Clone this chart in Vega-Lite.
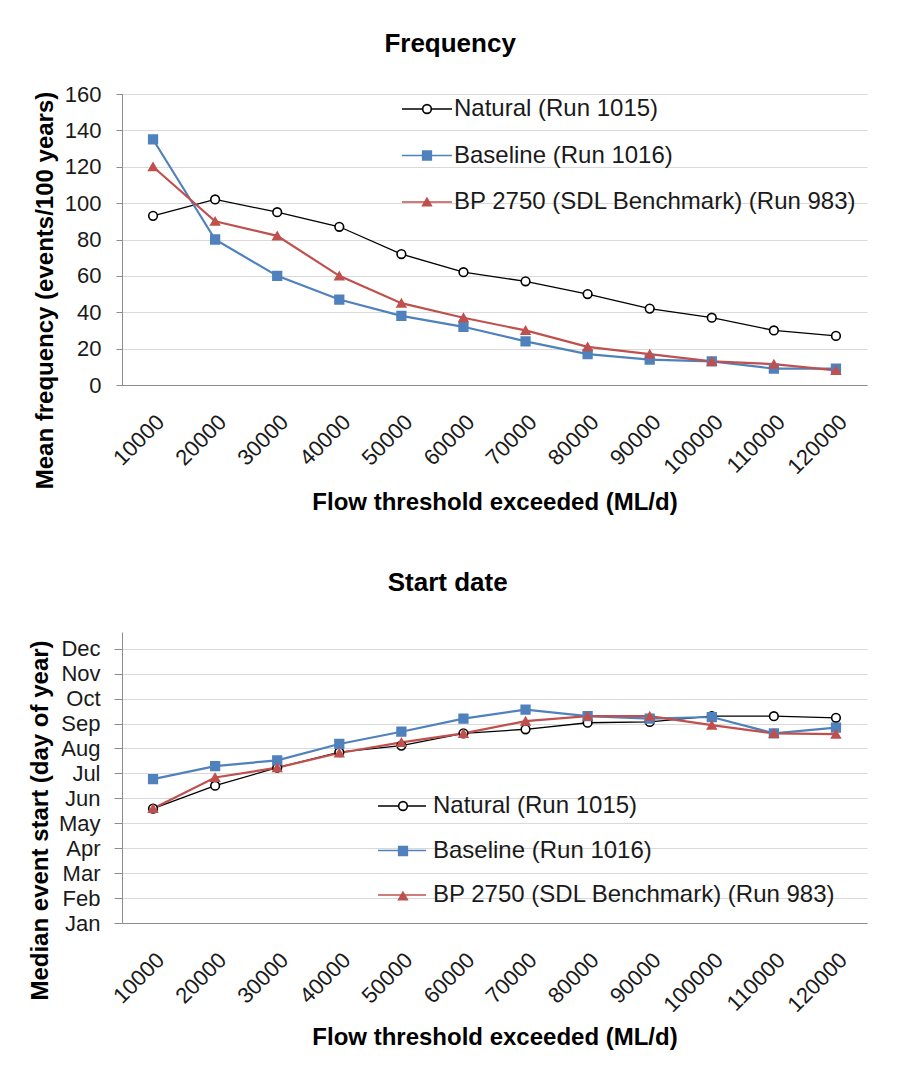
{
  "$schema": "https://vega.github.io/schema/vega-lite/v6.json",
  "background": "white",
  "padding": {"left": 28, "top": 31, "right": 10, "bottom": 10},
  "datasets": {
    "freq": [
      {"series": "Natural (Run 1015)", "flow": 10000, "value": 93},
      {"series": "Natural (Run 1015)", "flow": 20000, "value": 102},
      {"series": "Natural (Run 1015)", "flow": 30000, "value": 95},
      {"series": "Natural (Run 1015)", "flow": 40000, "value": 87},
      {"series": "Natural (Run 1015)", "flow": 50000, "value": 72},
      {"series": "Natural (Run 1015)", "flow": 60000, "value": 62},
      {"series": "Natural (Run 1015)", "flow": 70000, "value": 57},
      {"series": "Natural (Run 1015)", "flow": 80000, "value": 50},
      {"series": "Natural (Run 1015)", "flow": 90000, "value": 42},
      {"series": "Natural (Run 1015)", "flow": 100000, "value": 37},
      {"series": "Natural (Run 1015)", "flow": 110000, "value": 30},
      {"series": "Natural (Run 1015)", "flow": 120000, "value": 27},
      {"series": "Baseline (Run 1016)", "flow": 10000, "value": 135},
      {"series": "Baseline (Run 1016)", "flow": 20000, "value": 80},
      {"series": "Baseline (Run 1016)", "flow": 30000, "value": 60},
      {"series": "Baseline (Run 1016)", "flow": 40000, "value": 47},
      {"series": "Baseline (Run 1016)", "flow": 50000, "value": 38},
      {"series": "Baseline (Run 1016)", "flow": 60000, "value": 32},
      {"series": "Baseline (Run 1016)", "flow": 70000, "value": 24},
      {"series": "Baseline (Run 1016)", "flow": 80000, "value": 17},
      {"series": "Baseline (Run 1016)", "flow": 90000, "value": 14},
      {"series": "Baseline (Run 1016)", "flow": 100000, "value": 13},
      {"series": "Baseline (Run 1016)", "flow": 110000, "value": 9},
      {"series": "Baseline (Run 1016)", "flow": 120000, "value": 9},
      {"series": "BP 2750 (SDL Benchmark) (Run 983)", "flow": 10000, "value": 120},
      {"series": "BP 2750 (SDL Benchmark) (Run 983)", "flow": 20000, "value": 90},
      {"series": "BP 2750 (SDL Benchmark) (Run 983)", "flow": 30000, "value": 82},
      {"series": "BP 2750 (SDL Benchmark) (Run 983)", "flow": 40000, "value": 60},
      {"series": "BP 2750 (SDL Benchmark) (Run 983)", "flow": 50000, "value": 45},
      {"series": "BP 2750 (SDL Benchmark) (Run 983)", "flow": 60000, "value": 37},
      {"series": "BP 2750 (SDL Benchmark) (Run 983)", "flow": 70000, "value": 30},
      {"series": "BP 2750 (SDL Benchmark) (Run 983)", "flow": 80000, "value": 21},
      {"series": "BP 2750 (SDL Benchmark) (Run 983)", "flow": 90000, "value": 17},
      {"series": "BP 2750 (SDL Benchmark) (Run 983)", "flow": 100000, "value": 13},
      {"series": "BP 2750 (SDL Benchmark) (Run 983)", "flow": 110000, "value": 11.5},
      {"series": "BP 2750 (SDL Benchmark) (Run 983)", "flow": 120000, "value": 8}
    ],
    "start": [
      {"series": "Natural (Run 1015)", "flow": 10000, "day": 140},
      {"series": "Natural (Run 1015)", "flow": 20000, "day": 168},
      {"series": "Natural (Run 1015)", "flow": 30000, "day": 190},
      {"series": "Natural (Run 1015)", "flow": 40000, "day": 209},
      {"series": "Natural (Run 1015)", "flow": 50000, "day": 217},
      {"series": "Natural (Run 1015)", "flow": 60000, "day": 232},
      {"series": "Natural (Run 1015)", "flow": 70000, "day": 237},
      {"series": "Natural (Run 1015)", "flow": 80000, "day": 245},
      {"series": "Natural (Run 1015)", "flow": 90000, "day": 246},
      {"series": "Natural (Run 1015)", "flow": 100000, "day": 253},
      {"series": "Natural (Run 1015)", "flow": 110000, "day": 253},
      {"series": "Natural (Run 1015)", "flow": 120000, "day": 251},
      {"series": "Baseline (Run 1016)", "flow": 10000, "day": 176},
      {"series": "Baseline (Run 1016)", "flow": 20000, "day": 192},
      {"series": "Baseline (Run 1016)", "flow": 30000, "day": 199},
      {"series": "Baseline (Run 1016)", "flow": 40000, "day": 219},
      {"series": "Baseline (Run 1016)", "flow": 50000, "day": 234},
      {"series": "Baseline (Run 1016)", "flow": 60000, "day": 250},
      {"series": "Baseline (Run 1016)", "flow": 70000, "day": 261},
      {"series": "Baseline (Run 1016)", "flow": 80000, "day": 253},
      {"series": "Baseline (Run 1016)", "flow": 90000, "day": 250},
      {"series": "Baseline (Run 1016)", "flow": 100000, "day": 252},
      {"series": "Baseline (Run 1016)", "flow": 110000, "day": 232},
      {"series": "Baseline (Run 1016)", "flow": 120000, "day": 239},
      {"series": "BP 2750 (SDL Benchmark) (Run 983)", "flow": 10000, "day": 140},
      {"series": "BP 2750 (SDL Benchmark) (Run 983)", "flow": 20000, "day": 178},
      {"series": "BP 2750 (SDL Benchmark) (Run 983)", "flow": 30000, "day": 190},
      {"series": "BP 2750 (SDL Benchmark) (Run 983)", "flow": 40000, "day": 208},
      {"series": "BP 2750 (SDL Benchmark) (Run 983)", "flow": 50000, "day": 221},
      {"series": "BP 2750 (SDL Benchmark) (Run 983)", "flow": 60000, "day": 232},
      {"series": "BP 2750 (SDL Benchmark) (Run 983)", "flow": 70000, "day": 247},
      {"series": "BP 2750 (SDL Benchmark) (Run 983)", "flow": 80000, "day": 253},
      {"series": "BP 2750 (SDL Benchmark) (Run 983)", "flow": 90000, "day": 253},
      {"series": "BP 2750 (SDL Benchmark) (Run 983)", "flow": 100000, "day": 242},
      {"series": "BP 2750 (SDL Benchmark) (Run 983)", "flow": 110000, "day": 232},
      {"series": "BP 2750 (SDL Benchmark) (Run 983)", "flow": 120000, "day": 231}
    ]
  },
  "config": {
    "font": "Liberation Sans",
    "view": {"stroke": null},
    "axis": {
      "labelFont": "Liberation Sans",
      "labelFontSize": 22,
      "labelColor": "#1a1a1a",
      "titleFont": "Liberation Sans",
      "titleFontSize": 24,
      "titleFontWeight": "bold",
      "titleColor": "#000000",
      "domainColor": "#8c8c8c",
      "tickColor": "#8c8c8c",
      "gridColor": "#d9d9d9"
    },
    "legend": {
      "labelFont": "Liberation Sans",
      "labelFontSize": 24,
      "labelColor": "#1a1a1a",
      "labelLimit": 600,
      "padding": 0
    },
    "title": {"font": "Liberation Sans", "fontSize": 26, "fontWeight": "bold", "color": "#000000", "anchor": "middle", "frame": "bounds"},
    "concat": {"spacing": 55}
  },
  "resolve": {
    "scale": {"color": "independent", "shape": "independent", "fill": "independent", "stroke": "independent"},
    "legend": {"color": "independent", "shape": "independent", "fill": "independent", "stroke": "independent"}
  },
  "vconcat": [
    {
      "title": {"text": "Frequency", "offset": 26},
      "width": 745,
      "height": 291,
      "data": {"name": "freq"},
      "encoding": {
        "x": {
          "field": "flow", "type": "ordinal",
          "scale": {"type": "point", "padding": 0.5},
          "axis": {"title": "Flow threshold exceeded (ML/d)", "labelAngle": -45, "ticks": false, "labelPadding": 26, "titlePadding": 13}
        },
        "y": {
          "field": "value", "type": "quantitative",
          "scale": {"domain": [0, 160]},
          "axis": {"title": "Mean frequency (events/100 years)", "titleY": 196, "values": [0, 20, 40, 60, 80, 100, 120, 140, 160], "tickSize": 6, "labelPadding": 15, "titlePadding": 7, "grid": true}
        },
        "color": {
          "field": "series", "type": "nominal",
          "sort": ["Natural (Run 1015)", "Baseline (Run 1016)", "BP 2750 (SDL Benchmark) (Run 983)"],
          "scale": {"range": ["#000000", "#4f81bd", "#c0504d"]},
          "legend": {"title": null, "orient": "none", "legendX": 279, "legendY": -11, "symbolType": "stroke", "symbolSize": 2500, "symbolStrokeWidth": 1.6, "labelOffset": 1, "rowPadding": 8.5}
        }
      },
      "layer": [
        {
          "transform": [{"filter": "datum.series === 'Natural (Run 1015)'"}],
          "mark": {"type": "line", "strokeWidth": 1.3}
        },
        {
          "transform": [{"filter": "datum.series !== 'Natural (Run 1015)'"}],
          "mark": {"type": "line", "strokeWidth": 2.2}
        },
        {
          "mark": {"type": "point", "filled": true, "size": 75, "strokeWidth": 1.6, "opacity": 1},
          "encoding": {
            "color": {"value": null},
            "shape": {
              "field": "series", "type": "nominal",
              "scale": {"domain": ["Natural (Run 1015)", "Baseline (Run 1016)", "BP 2750 (SDL Benchmark) (Run 983)"], "range": ["circle", "square", "triangle-up"]},
              "legend": {"title": null, "orient": "none", "legendX": 293, "legendY": 3, "symbolSize": 75, "symbolStrokeWidth": 1.6, "labelOpacity": 0, "labelOffset": 3, "rowPadding": 22.5}
            },
            "fill": {
              "field": "series", "type": "nominal",
              "scale": {"domain": ["Natural (Run 1015)", "Baseline (Run 1016)", "BP 2750 (SDL Benchmark) (Run 983)"], "range": ["#ffffff", "#4f81bd", "#c0504d"]},
              "legend": {"title": null, "orient": "none", "legendX": 293, "legendY": 3, "symbolSize": 75, "symbolStrokeWidth": 1.6, "labelOpacity": 0, "labelOffset": 3, "rowPadding": 22.5}
            },
            "stroke": {
              "field": "series", "type": "nominal",
              "scale": {"domain": ["Natural (Run 1015)", "Baseline (Run 1016)", "BP 2750 (SDL Benchmark) (Run 983)"], "range": ["#000000", "#4f81bd", "#c0504d"]},
              "legend": {"title": null, "orient": "none", "legendX": 293, "legendY": 3, "symbolSize": 75, "symbolStrokeWidth": 1.6, "labelOpacity": 0, "labelOffset": 3, "rowPadding": 22.5}
            }
          }
        }
      ]
    },
    {
      "title": {"text": "Start date", "offset": 36},
      "width": 745,
      "height": 291,
      "data": {"name": "start"},
      "encoding": {
        "x": {
          "field": "flow", "type": "ordinal",
          "scale": {"type": "point", "padding": 0.5},
          "axis": {"title": "Flow threshold exceeded (ML/d)", "labelAngle": -45, "ticks": false, "labelPadding": 26, "titlePadding": 10}
        },
        "y": {
          "field": "day", "type": "quantitative",
          "scale": {"domain": [0, 356], "nice": false},
          "axis": {
            "title": "Median event start (day of year)",
            "titleY": 188,
            "values": [0, 30.5, 61, 91.5, 122, 152.5, 183, 213.5, 244, 274.5, 305, 335.5],
            "labelExpr": "['Jan','Feb','Mar','Apr','May','Jun','Jul','Aug','Sep','Oct','Nov','Dec'][round(datum.value / 30.5)]",
            "tickSize": 8, "labelPadding": 14, "titlePadding": 6, "grid": true
          }
        },
        "color": {
          "field": "series", "type": "nominal",
          "sort": ["Natural (Run 1015)", "Baseline (Run 1016)", "BP 2750 (SDL Benchmark) (Run 983)"],
          "scale": {"range": ["#000000", "#4f81bd", "#c0504d"]},
          "legend": {"title": null, "orient": "none", "legendX": 255, "legendY": 149, "symbolType": "stroke", "symbolSize": 2300, "symbolStrokeWidth": 1.6, "labelOffset": 6, "rowPadding": 7.5}
        }
      },
      "layer": [
        {
          "transform": [{"filter": "datum.series === 'Natural (Run 1015)'"}],
          "mark": {"type": "line", "strokeWidth": 1.3}
        },
        {
          "transform": [{"filter": "datum.series !== 'Natural (Run 1015)'"}],
          "mark": {"type": "line", "strokeWidth": 2.2}
        },
        {
          "mark": {"type": "point", "filled": true, "size": 75, "strokeWidth": 1.6, "opacity": 1},
          "encoding": {
            "color": {"value": null},
            "shape": {
              "field": "series", "type": "nominal",
              "scale": {"domain": ["Natural (Run 1015)", "Baseline (Run 1016)", "BP 2750 (SDL Benchmark) (Run 983)"], "range": ["circle", "square", "triangle-up"]},
              "legend": {"title": null, "orient": "none", "legendX": 269, "legendY": 162, "symbolSize": 75, "symbolStrokeWidth": 1.6, "labelOpacity": 0, "labelOffset": 3, "rowPadding": 21}
            },
            "fill": {
              "field": "series", "type": "nominal",
              "scale": {"domain": ["Natural (Run 1015)", "Baseline (Run 1016)", "BP 2750 (SDL Benchmark) (Run 983)"], "range": ["#ffffff", "#4f81bd", "#c0504d"]},
              "legend": {"title": null, "orient": "none", "legendX": 269, "legendY": 162, "symbolSize": 75, "symbolStrokeWidth": 1.6, "labelOpacity": 0, "labelOffset": 3, "rowPadding": 21}
            },
            "stroke": {
              "field": "series", "type": "nominal",
              "scale": {"domain": ["Natural (Run 1015)", "Baseline (Run 1016)", "BP 2750 (SDL Benchmark) (Run 983)"], "range": ["#000000", "#4f81bd", "#c0504d"]},
              "legend": {"title": null, "orient": "none", "legendX": 269, "legendY": 162, "symbolSize": 75, "symbolStrokeWidth": 1.6, "labelOpacity": 0, "labelOffset": 3, "rowPadding": 21}
            }
          }
        }
      ]
    }
  ]
}
